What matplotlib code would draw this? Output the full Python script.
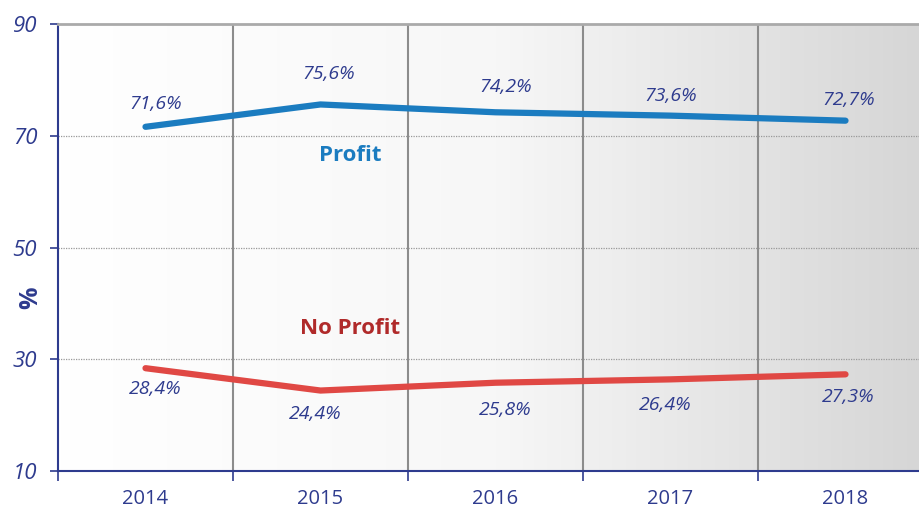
import matplotlib.pyplot as plt
import numpy as np
from matplotlib.colors import LinearSegmentedColormap

years = ['2014', '2015', '2016', '2017', '2018']
profit = [71.6, 75.6, 74.2, 73.6, 72.7]
no_profit = [28.4, 24.4, 25.8, 26.4, 27.3]
profit_labels = ['71,6%', '75,6%', '74,2%', '73,6%', '72,7%']
no_profit_labels = ['28,4%', '24,4%', '25,8%', '26,4%', '27,3%']
y_ticks = [10, 30, 50, 70, 90]

# label offsets in pixels from the data point
profit_off = [(10, 23), (8, 30), (10, 25), (0, 20), (3, 21)]
no_profit_off = [(10, -21), (-5, -23), (10, -27), (-5, -26), (3, -23)]

navy = '#2e3b8e'
blue = '#1b7cc0'
red = '#e04844'
dark_red = '#b02a2a'

plt.rcParams['font.family'] = ['Open Sans', 'DejaVu Sans']

fig = plt.figure(figsize=(9.19, 5.12), dpi=100)
ax = fig.add_axes([58 / 919, 41 / 512, 875 / 919, 447 / 512])

x = np.arange(len(years))
ax.set_xlim(-0.5, 4.5)
ax.set_ylim(10, 90)

# background gradient white -> grey
cmap = LinearSegmentedColormap.from_list('bg', ['#ffffff', '#f7f7f7', '#d5d5d5'])
grad = np.linspace(0, 1, 256).reshape(1, -1)
ax.imshow(grad, extent=[-0.5, 4.5, 10, 90], aspect='auto', cmap=cmap, zorder=0)

# grid
for yv in [30, 50, 70]:
    ax.axhline(yv, color='#999999', lw=0.9, ls=(0, (1, 1)), zorder=1)
for b in np.arange(0.5, 4.5, 1):
    ax.axvline(b, color='#8c8c8c', lw=1.5, zorder=1)

ax.plot(x, profit, color=blue, lw=4.5, solid_capstyle='round', zorder=3)
ax.plot(x, no_profit, color=red, lw=4.5, solid_capstyle='round', zorder=3)

px = 72 / 100
for i in range(len(years)):
    dx, dy = profit_off[i]
    ax.annotate(profit_labels[i], (x[i], profit[i]), xytext=(dx * px, dy * px),
                textcoords='offset points', ha='center', va='center',
                fontsize=14, style='italic', color=navy, zorder=4)
    dx, dy = no_profit_off[i]
    ax.annotate(no_profit_labels[i], (x[i], no_profit[i]), xytext=(dx * px, dy * px),
                textcoords='offset points', ha='center', va='center',
                fontsize=14, style='italic', color=navy, zorder=4)

ax.text(1.17, 66.4, 'Profit', color=blue, fontsize=16, fontweight='bold',
        ha='center', va='center', zorder=4)
ax.text(1.17, 35.5, 'No Profit', color=dark_red, fontsize=16, fontweight='bold',
        ha='center', va='center', zorder=4)

# axes styling
ax.set_yticks(y_ticks)
ax.set_yticklabels([str(v) for v in y_ticks], fontsize=16, style='italic', color=navy)
ax.set_xticks(x)
ax.set_xticklabels(years, fontsize=14.5, color=navy)
ax.tick_params(axis='x', length=0, pad=13)
ax.tick_params(axis='y', length=6, width=1.2, color=navy, pad=9)
ax.set_xticks(np.arange(-0.5, 5.0, 1), minor=True)
ax.tick_params(axis='x', which='minor', length=7, width=1.2, color=navy, direction='out')

fig.text(31 / 919, 1 - 298 / 512, '%', fontsize=18, fontweight='bold', color=navy,
         rotation=90, ha='center', va='center')

ax.spines['left'].set_color(navy)
ax.spines['left'].set_linewidth(1.5)
ax.spines['bottom'].set_color(navy)
ax.spines['bottom'].set_linewidth(1.5)
ax.spines['top'].set_color('#aaaaaa')
ax.spines['top'].set_linewidth(2)
ax.spines['right'].set_visible(False)

fig.savefig('out.png', dpi=100)
